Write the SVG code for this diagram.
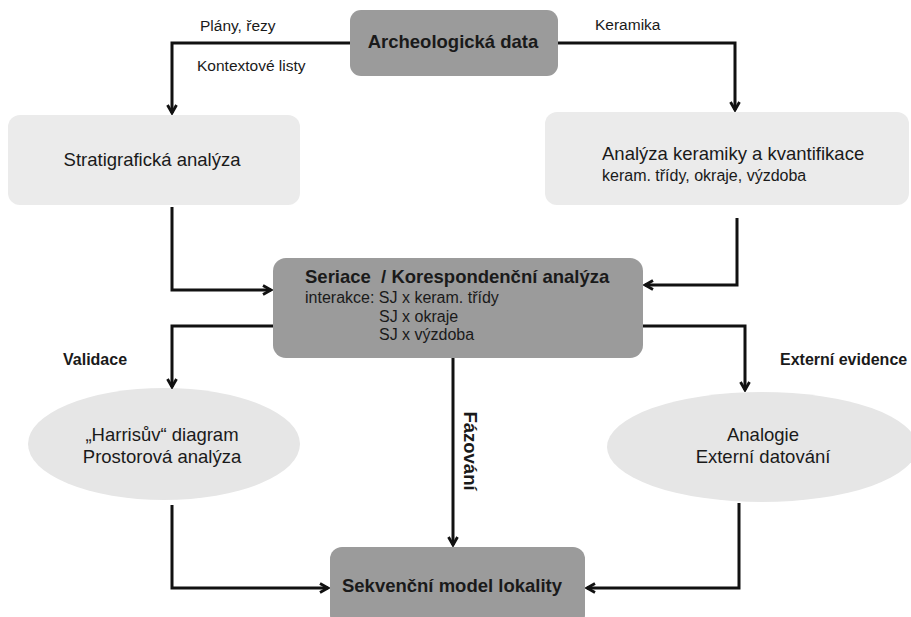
<svg xmlns="http://www.w3.org/2000/svg" width="911" height="617" viewBox="0 0 911 617">
<style>
text{font-family:"Liberation Sans",Arial,sans-serif;fill:#1a1a1a}
.b{font-weight:bold}
.dark{fill:#9b9b9b}
.light{fill:#ebebeb}
.ell{fill:#e6e6e6}
.t18{font-size:18.5px}
.t16{font-size:16px}
.lbl{font-size:15.5px}
.c{text-anchor:middle}
.con path{fill:none;stroke:#111;stroke-width:3;marker-end:url(#arr)}
</style>
<defs>
<marker id="arr" viewBox="0 0 12 12" refX="10" refY="6" markerWidth="12" markerHeight="12" markerUnits="userSpaceOnUse" orient="auto">
<path d="M2,1.5 L10,6 L2,10.5" fill="none" stroke="#111" stroke-width="2.8"/>
</marker>
</defs>
<rect width="911" height="617" fill="#fff"/>
<g id="archeologicka-data">
<rect class="dark" x="350" y="10" width="208" height="66" rx="11"/>
<text class="b t18 c" x="453" y="48">Archeologická data</text>
</g>
<g id="stratigraficka">
<rect class="light" x="8" y="115" width="292" height="90" rx="12"/>
<text class="t18 c" x="152" y="166">Stratigrafická analýza</text>
</g>
<g id="keramika">
<rect class="light" x="545" y="112" width="364" height="93" rx="12"/>
<text class="t18" x="602" y="160">Analýza keramiky a kvantifikace</text>
<text class="t16" x="602" y="181">keram. třídy, okraje, výzdoba</text>
</g>
<g id="seriace">
<rect class="dark" x="273" y="258" width="370" height="100" rx="13"/>
<text class="b t18" x="305" y="283" xml:space="preserve">Seriace  / Korespondenční analýza</text>
<text class="t16" x="305" y="303">interakce: SJ x keram. třídy</text>
<text class="t16" x="379" y="322">SJ x okraje</text>
<text class="t16" x="379" y="340">SJ x výzdoba</text>
</g>
<g id="harris">
<ellipse class="ell" cx="164" cy="444" rx="136" ry="56"/>
<text class="t18 c" x="162" y="441">„Harrisův“ diagram</text>
<text class="t18 c" x="162" y="463">Prostorová analýza</text>
</g>
<g id="analogie">
<ellipse class="ell" cx="762" cy="447" rx="155" ry="55"/>
<text class="t18 c" x="763" y="441">Analogie</text>
<text class="t18 c" x="763" y="463">Externí datování</text>
</g>
<g id="sekvencni-model">
<rect class="dark" x="330" y="547" width="255" height="80" rx="12"/>
<text class="b t18 c" x="452" y="592">Sekvenční model lokality</text>
</g>
<g id="connectors" class="con">
<path d="M350,43 H172 V113"/>
<path d="M558,43 H735 V110"/>
<path d="M172,207 V290 H271"/>
<path d="M737,218 V285 H645"/>
<path d="M273,326 H172 V387"/>
<path d="M643,326 H745 V390"/>
<path d="M453,358 V545"/>
<path d="M172,505 V588 H328"/>
<path d="M739,503 V588 H587"/>
</g>
<g id="labels">
<text class="lbl" x="200" y="31">Plány, řezy</text>
<text class="lbl" x="197" y="71">Kontextové listy</text>
<text class="lbl" x="595" y="30">Keramika</text>
<text class="b t16" x="63" y="365">Validace</text>
<text class="b t16" x="780" y="365">Externí evidence</text>
<text class="b t18 c" transform="translate(464,451) rotate(90)">Fázování</text>
</g>
</svg>
